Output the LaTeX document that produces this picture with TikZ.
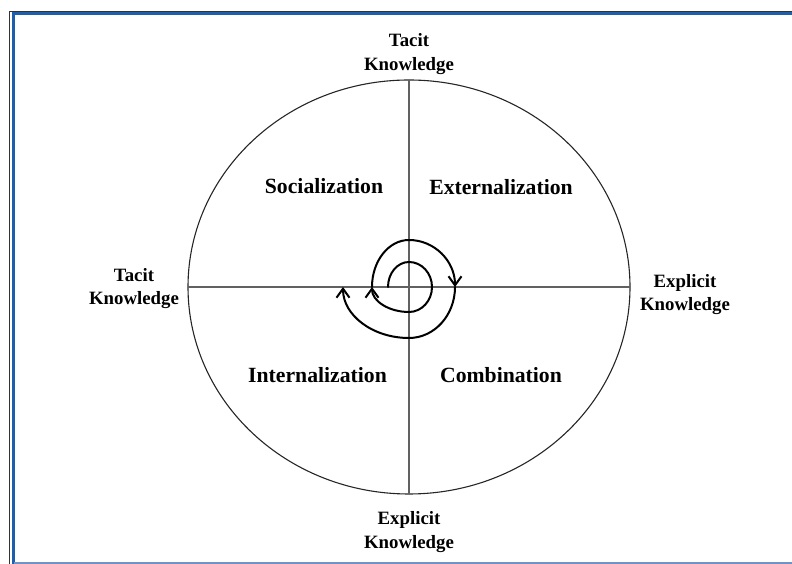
\documentclass[tikz,border=0pt]{standalone}
\usepackage{fontspec}
\setmainfont{Liberation Serif}
\usetikzlibrary{arrows.meta}
\definecolor{frameblue}{RGB}{31,94,170}
\definecolor{framelight}{RGB}{112,146,196}
\begin{document}
\begin{tikzpicture}[x=1pt,y=1pt,
  axis/.style={draw=black!62, line width=1.4pt},
  rim/.style={draw=black!85, line width=1.1pt},
  spiral/.style={draw=black, line width=2pt, line cap=round,
    -{Straight Barb[length=9pt,width=13pt]}},
  region/.style={font=\fontsize{21.7pt}{26pt}\selectfont\bfseries,
    anchor=base, inner sep=0pt},
  pole/.style={font=\fontsize{18.8pt}{23.5pt}\selectfont\bfseries,
    align=center, inner sep=0pt}]
\useasboundingbox (0,0) rectangle (792,564);

% page frame
\draw[black!80, line width=1pt] (792,552.5) -- (9.5,552.5) -- (9.5,0);
\draw[frameblue, line width=3pt] (792,550.2) -- (13.7,550.2) -- (13.7,0);
\draw[framelight, line width=1.5pt] (13.7,1.2) -- (792,1.2);

% circle and the two axes
\coordinate (c) at (409,277);
\coordinate (N) at (409,484);
\coordinate (S) at (409,70);
\coordinate (W) at (188,277);
\coordinate (E) at (630,277);
\draw[rim] (c) ellipse [x radius=221pt, y radius=207pt];
\draw[axis] (W) -- (E);
\draw[axis] (N) -- (S);

% knowledge spiral, turning clockwise outward
\draw[spiral] (388,277)
  arc[start angle=180, end angle=90, x radius=21pt, y radius=25pt]
  arc[start angle=90, end angle=0, x radius=23pt, y radius=25pt]
  arc[start angle=0, end angle=-90, x radius=23pt, y radius=25pt]
  arc[start angle=-90, end angle=-180, x radius=37pt, y radius=25pt];
\draw[spiral] (372,277)
  arc[start angle=180, end angle=90, x radius=37pt, y radius=47pt]
  arc[start angle=90, end angle=0, x radius=46pt, y radius=47pt];
\draw[spiral] (455,277)
  arc[start angle=0, end angle=-90, x radius=46pt, y radius=51pt]
  arc[start angle=-90, end angle=-180, x radius=66pt, y radius=51pt];

% quadrant names
\node[region] (soc) at (324,370) {Socialization};
\node[region] (ext) at (501,369) {Externalization};
\node[region] (int) at (317.5,181.3) {Internalization};
\node[region] (com) at (501,181) {Combination};

% axis end labels
\node[pole] (top) at (409,510) {Tacit\\Knowledge};
\node[pole] (left) at (134,275.5) {Tacit\\Knowledge};
\node[pole] (right) at (685,269.5) {Explicit\\Knowledge};
\node[pole] (bottom) at (409,32) {Explicit\\Knowledge};
\end{tikzpicture}
\end{document}
